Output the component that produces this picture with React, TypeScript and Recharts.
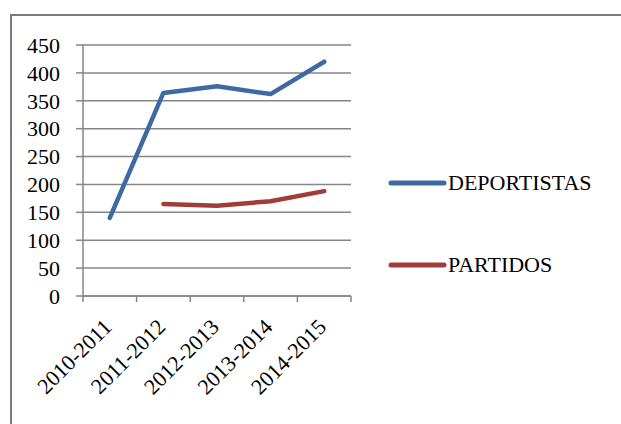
import { CartesianGrid, Legend, Line, LineChart, XAxis, YAxis } from "recharts";

// temporadas
const seasons = ["2010-2011", "2011-2012", "2012-2013", "2013-2014", "2014-2015"];
const deportistas = [140, 364, 376, 362, 420];
const partidos: (number | null)[] = [null, 165, 162, 170, 188];
const yTicks = [0, 50, 100, 150, 200, 250, 300, 350, 400, 450];

const BLUE = "#3E69A2";
const RED = "#A23C39";
const GRID = "#868686";
const FONT = "'Liberation Serif', 'Times New Roman', serif";

const data = seasons.map((s, i) => ({
  season: s,
  edge: i,
  DEPORTISTAS: deportistas[i],
  PARTIDOS: partidos[i],
}));

const series = [
  { key: "DEPORTISTAS", color: BLUE },
  { key: "PARTIDOS", color: RED },
];

function SeasonTick(props: any) {
  const { x, y, payload } = props;
  const tx = x - 2;
  const ty = y + 20;
  return (
    <text
      x={tx}
      y={ty}
      transform={`rotate(-45, ${tx}, ${ty})`}
      textAnchor="end"
      dominantBaseline="central"
      fontSize={22}
      fontFamily={FONT}
      fill="#000"
    >
      {payload.value}
    </text>
  );
}

function LegendBox() {
  return (
    <div style={{ fontFamily: FONT, fontSize: 22, color: "#000" }}>
      {series.map((s, i) => (
        <div
          key={s.key}
          style={{ display: "flex", alignItems: "center", height: 30, marginTop: i === 0 ? 0 : 52 }}
        >
          <svg width={60} height={10} style={{ display: "block" }}>
            <line x1={3} y1={5} x2={56} y2={5} stroke={s.color} strokeWidth={5} strokeLinecap="round" />
          </svg>
          <span>{s.key}</span>
        </div>
      ))}
    </div>
  );
}

export default function App() {
  return (
    <div
      id="chart-root"
      style={{
        position: "absolute",
        left: 0,
        top: 0,
        width: 621,
        height: 424,
        overflow: "hidden",
        background: "#fff",
        fontFamily: FONT,
      }}
    >
      <style>{`#root #chart-root .recharts-wrapper text, #root #chart-root .recharts-wrapper tspan, #root #chart-root .recharts-wrapper div, #root #chart-root .recharts-wrapper span { font-family: 'Liberation Serif', 'Times New Roman', serif !important; }`}</style>
      <div
        style={{
          position: "absolute",
          left: 10,
          top: 14,
          width: 700,
          height: 500,
          border: "2px solid #7a7a7a",
        }}
      />
      <LineChart
        width={621}
        height={424}
        data={data}
        margin={{ top: 45, right: 270, bottom: 28, left: 10 }}
        style={{ position: "absolute", left: 0, top: 0 }}
      >
        <CartesianGrid vertical={false} stroke={GRID} strokeWidth={1.5} />
        <XAxis
          xAxisId="a_edge"
          type="number"
          dataKey="edge"
          domain={[0, 5]}
          ticks={[0, 1, 2, 3, 4, 5]}
          tickFormatter={() => ""}
          height={1}
          tickSize={6}
          stroke={GRID}
          strokeWidth={1.5}
          allowDataOverflow
        />
        <XAxis
          xAxisId="b_cat"
          dataKey="season"
          scale="band"
          axisLine={false}
          tickLine={false}
          height={99}
          tickMargin={0}
          interval={0}
          tick={<SeasonTick />}
        />
        <YAxis
          width={73}
          domain={[0, 450]}
          ticks={yTicks}
          interval={0}
          tickSize={7}
          tickMargin={16}
          stroke={GRID}
          strokeWidth={1.5}
          tick={{ fill: "#000", fontSize: 22, fontFamily: FONT }}
        />
        {series.map((s) => (
          <Line
            key={s.key}
            xAxisId="b_cat"
            dataKey={s.key}
            stroke={s.color}
            strokeWidth={4.5}
            strokeLinecap="round"
            strokeLinejoin="round"
            dot={false}
            activeDot={false}
            isAnimationActive={false}
          />
        ))}
        <Legend
          layout="vertical"
          align="center"
          verticalAlign="middle"
          content={<LegendBox />}
          wrapperStyle={{ left: 388, top: 168, width: 230 }}
        />
      </LineChart>
    </div>
  );
}
